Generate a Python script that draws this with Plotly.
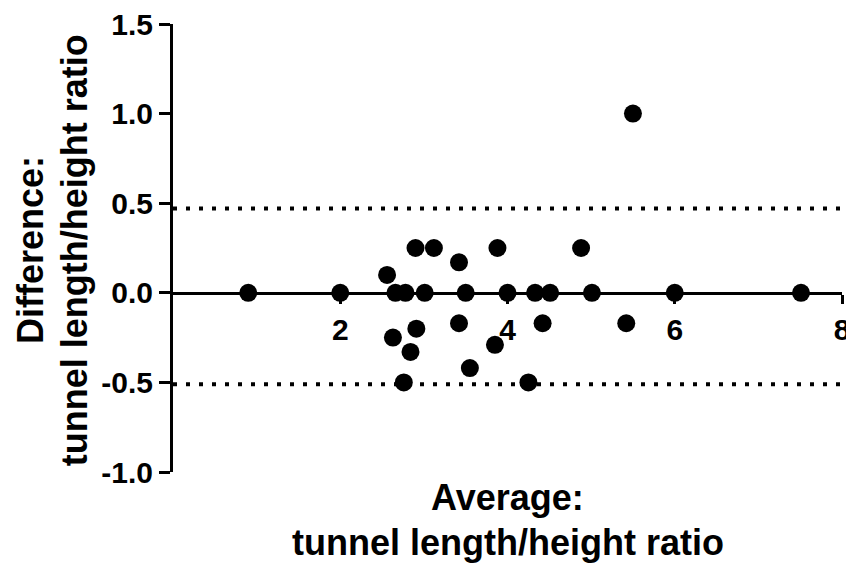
import plotly.graph_objects as go

# Bland-Altman data
average = [0.90, 2.00, 2.56, 2.63, 2.66, 2.76, 2.78, 2.84, 2.90, 2.91, 3.01, 3.12,
           3.42, 3.42, 3.50, 3.55, 3.85, 3.88, 4.00, 4.25, 4.33, 4.42, 4.51, 4.88,
           5.01, 5.42, 5.50, 6.00, 7.51]
difference = [0, 0, 0.10, -0.25, 0, -0.50, 0, -0.33, 0.25, -0.20, 0, 0.25,
              0.17, -0.17, 0, -0.42, -0.29, 0.25, 0, -0.50, 0, -0.17, 0, 0.25,
              0, -0.17, 1.00, 0, 0]
upper_loa = 0.47
lower_loa = -0.51
x_range = [0, 8]
y_range = [-1.0, 1.5]
x_ticks = [2, 4, 6, 8]
y_ticks = [-1.0, -0.5, 0.0, 0.5, 1.0, 1.5]
y_ticklabels = ["-1.0", "-0.5", "0.0", "0.5", "1.0", "1.5"]

FONT = "Arial, 'Liberation Sans', sans-serif"
TITLE_SIZE = 36
TICK_SIZE = 30

fig = go.Figure()
for lim in (upper_loa, lower_loa):
    fig.add_trace(go.Scatter(x=x_range, y=[lim, lim], mode="lines",
                             line=dict(color="black", width=4, dash="4px,9px"),
                             hoverinfo="skip", showlegend=False))
fig.add_trace(go.Scatter(x=average, y=difference, mode="markers",
                         marker=dict(color="black", size=18, line=dict(width=0)),
                         showlegend=False))

zero_pos = (0 - y_range[0]) / (y_range[1] - y_range[0])

fig.update_layout(
    width=846, height=567,
    margin=dict(l=173, r=4, t=24, b=95, autoexpand=False),
    paper_bgcolor="white", plot_bgcolor="white",
    font=dict(family=FONT, color="black"),
    xaxis=dict(range=x_range, tickvals=x_ticks, ticks="outside", ticklen=9,
               tickwidth=3, tickcolor="black", showline=True, linewidth=3,
               linecolor="black", showgrid=False, zeroline=False,
               anchor="free", position=zero_pos, ticklabeloverflow="allow",
               automargin=False,
               tickfont=dict(size=TICK_SIZE, weight="bold", family=FONT)),
    yaxis=dict(range=y_range, tickvals=y_ticks, ticktext=y_ticklabels,
               ticks="outside", ticklen=11, tickwidth=3, tickcolor="black",
               showline=True, linewidth=3, linecolor="black", showgrid=False,
               zeroline=False, automargin=False,
               tickfont=dict(size=TICK_SIZE, weight="bold", family=FONT)),
    annotations=[
        dict(text="Average:", xref="paper", yref="paper", x=0.5, y=-0.058,
             xanchor="center", yanchor="middle", showarrow=False,
             font=dict(size=TITLE_SIZE, weight="bold", family=FONT)),
        dict(text="tunnel length/height ratio", xref="paper", yref="paper",
             x=0.5, y=-0.158, xanchor="center", yanchor="middle", showarrow=False,
             font=dict(size=TITLE_SIZE, weight="bold", family=FONT)),
        dict(text="Difference:", xref="paper", yref="paper", x=-0.214, y=0.495,
             xanchor="center", yanchor="middle", textangle=-90, showarrow=False,
             font=dict(size=TITLE_SIZE, weight="bold", family=FONT)),
        dict(text="tunnel length/height ratio", xref="paper", yref="paper",
             x=-0.148, y=0.495, xanchor="center", yanchor="middle", textangle=-90,
             showarrow=False, font=dict(size=TITLE_SIZE, weight="bold", family=FONT)),
    ],
)

# remove the browser's default 8px page margin so the figure fills the window
fig.write_html("out.html", config={"displayModeBar": False},
               post_script="document.body.style.margin='0px';")
